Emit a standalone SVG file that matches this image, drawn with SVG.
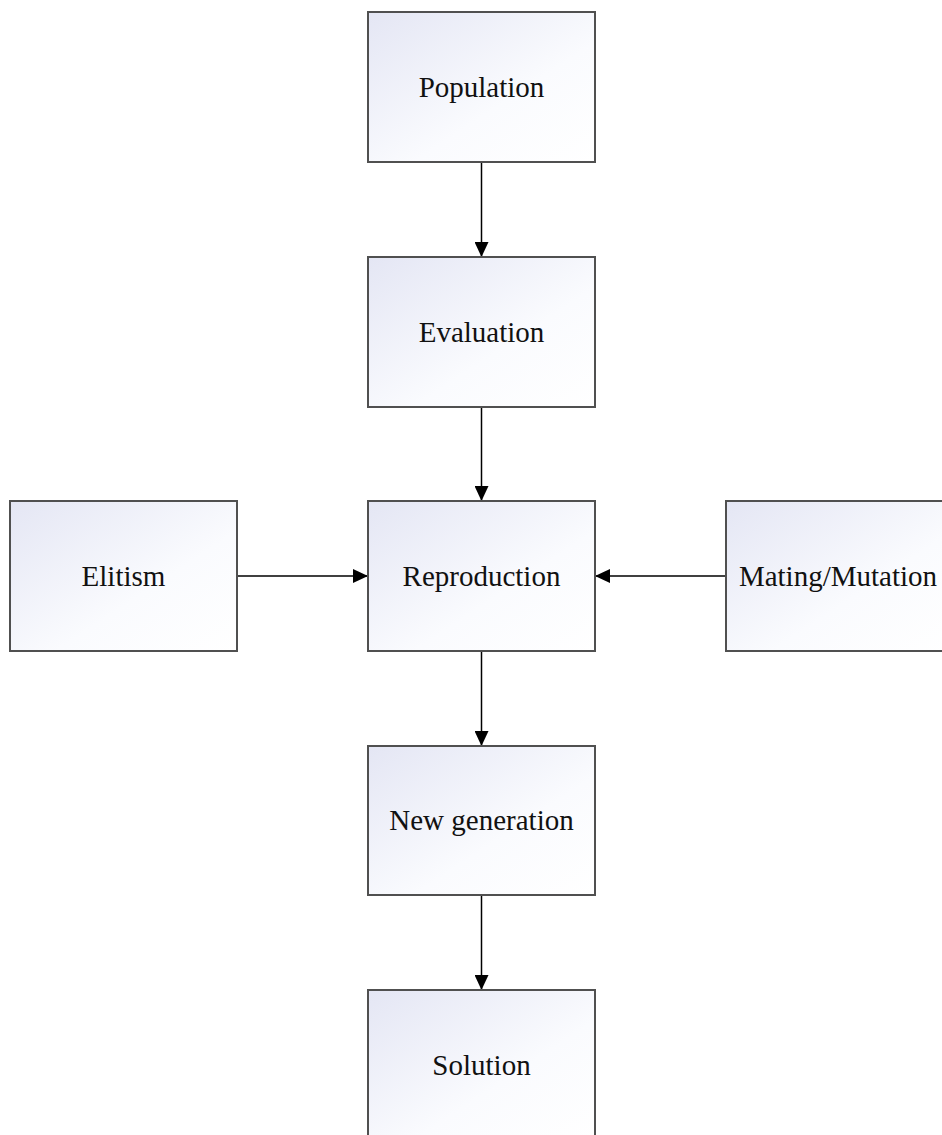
<svg xmlns="http://www.w3.org/2000/svg" width="942" height="1135" viewBox="0 0 942 1135">
<defs>
<linearGradient id="g" x1="0" y1="0" x2="1" y2="1">
<stop offset="0" stop-color="#e4e6f4"/>
<stop offset="0.6" stop-color="#fafbfe"/>
<stop offset="1" stop-color="#ffffff"/>
</linearGradient>
<marker id="arr" markerWidth="15" markerHeight="14" refX="15" refY="7" orient="auto" markerUnits="userSpaceOnUse">
<path d="M0,0 L15,7 L0,14 Z" fill="#000"/>
</marker>
<style>
.box{fill:url(#g);stroke:#505050;stroke-width:2}
.lbl{font-family:"Liberation Serif","Times New Roman",serif;font-size:29px;fill:#111;text-anchor:middle}
.con{stroke:#000;stroke-width:1.5;fill:none;marker-end:url(#arr)}
</style>
</defs>
<rect width="942" height="1135" fill="#fff"/>
<g id="connectors">
<line class="con" x1="481.5" y1="162" x2="481.5" y2="257"/>
<line class="con" x1="481.5" y1="407" x2="481.5" y2="501"/>
<line class="con" x1="481.5" y1="651" x2="481.5" y2="746"/>
<line class="con" x1="481.5" y1="895" x2="481.5" y2="990"/>
<line class="con" x1="237" y1="576" x2="368" y2="576"/>
<line class="con" x1="726" y1="576" x2="595" y2="576"/>
</g>
<g id="population"><rect class="box" x="368" y="12" width="227" height="150"/><text class="lbl" x="481.5" y="97">Population</text></g>
<g id="evaluation"><rect class="box" x="368" y="257" width="227" height="150"/><text class="lbl" x="481.5" y="342">Evaluation</text></g>
<g id="reproduction"><rect class="box" x="368" y="501" width="227" height="150"/><text class="lbl" x="481.5" y="586">Reproduction</text></g>
<g id="elitism"><rect class="box" x="10" y="501" width="227" height="150"/><text class="lbl" x="123.5" y="586">Elitism</text></g>
<g id="mating"><rect class="box" x="726" y="501" width="227" height="150"/><text class="lbl" x="838" y="586">Mating/Mutation</text></g>
<g id="newgen"><rect class="box" x="368" y="746" width="227" height="149"/><text class="lbl" x="481.5" y="830">New generation</text></g>
<g id="solution"><rect class="box" x="368" y="990" width="227" height="150"/><text class="lbl" x="481.5" y="1075">Solution</text></g>
</svg>
